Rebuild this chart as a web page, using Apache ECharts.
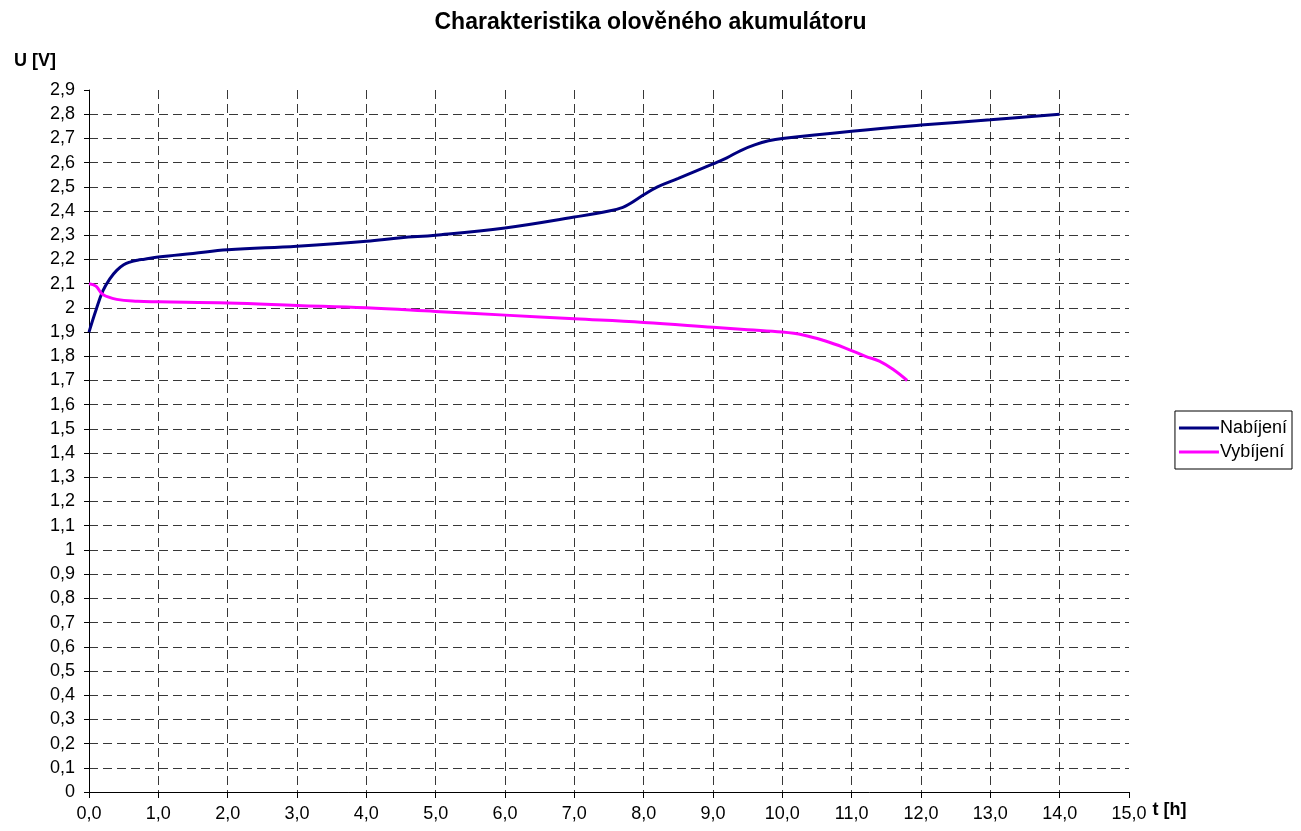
<!DOCTYPE html>
<html>
<head>
<meta charset="utf-8">
<script src="https://cdn.jsdelivr.net/npm/echarts@6/dist/echarts.min.js"></script>
<style>html,body{margin:0;padding:0;background:#fff}#c{width:1301px;height:831px}</style>
</head>
<body>
<div id="c"></div>
<script>
const chartTitle = 'Charakteristika olověného akumulátoru';
const xName = 't [h]';
const yName = 'U [V]';
const seriesNames = ['Nabíjení', 'Vybíjení'];
// charge curve: time [h], voltage [V]
const chargeT = [0, 0.1, 0.2, 0.3, 0.4, 0.5, 0.6, 0.7, 0.8, 1.0, 1.5, 2.0, 3.0, 4.0, 4.5, 5.0, 6.0, 7.0, 7.5, 7.7, 7.8, 8.0, 8.2, 8.5, 9.0, 9.2, 9.4, 9.6, 9.8, 10.0, 11.0, 12.0, 13.0, 14.0];
const chargeU = [1.90, 1.99, 2.07, 2.12, 2.155, 2.178, 2.19, 2.197, 2.201, 2.21, 2.225, 2.24, 2.255, 2.275, 2.29, 2.30, 2.33, 2.375, 2.40, 2.415, 2.43, 2.467, 2.50, 2.535, 2.595, 2.62, 2.65, 2.673, 2.69, 2.70, 2.73, 2.755, 2.777, 2.80];
// discharge curve
const dischT = [0, 0.1, 0.2, 0.4, 0.7, 1.0, 2.0, 3.0, 4.0, 5.0, 6.0, 7.0, 8.0, 9.0, 9.5, 10.0, 10.3, 10.6, 10.9, 11.2, 11.4, 11.6, 11.8];
const dischU = [2.10, 2.09, 2.055, 2.035, 2.027, 2.025, 2.02, 2.01, 2.0, 1.985, 1.97, 1.955, 1.94, 1.92, 1.91, 1.90, 1.888, 1.865, 1.835, 1.80, 1.78, 1.745, 1.70];

const pair = (a, b) => a.map((v, i) => [v, b[i]]);
const chart = echarts.init(document.getElementById('c'));
const font = 'Liberation Sans, Arial, sans-serif';
const gridLine = { show: true, showMaxLine: false, lineStyle: { color: '#000', type: [9, 5], width: 1, opacity: 0.78 } };
chart.setOption({
  animation: false,
  textStyle: { fontFamily: font },
  title: {
    text: chartTitle, left: 'center', top: 6,
    textStyle: { fontFamily: font, fontSize: 23, fontWeight: 'bold', color: '#000' }
  },
  legend: {
    orient: 'vertical', right: 9, top: 411,
    data: seriesNames,
    icon: 'rect', itemWidth: 40, itemHeight: 3, itemGap: 6,
    borderColor: '#000', borderWidth: 1, borderRadius: 0,
    padding: [8, 5, 8, 4],
    textStyle: { fontFamily: font, fontSize: 18, color: '#000', padding: [0, 0, 0, -4] }
  },
  grid: { left: 89, right: 172, top: 90, bottom: 39, containLabel: false },
  xAxis: {
    type: 'value', min: 0, max: 15, interval: 1,
    name: xName, nameLocation: 'end', nameGap: 21,
    nameTextStyle: { fontFamily: font, fontSize: 18, fontWeight: 'bold', color: '#000', align: 'left', verticalAlign: 'top', padding: [9, 0, 0, 0] },
    axisLine: { show: true, lineStyle: { color: '#000', width: 1 } },
    axisTick: { show: true, length: 6, inside: false, lineStyle: { color: '#000' } },
    axisLabel: { fontFamily: font, fontSize: 18, color: '#000', margin: 13, formatter: v => v.toFixed(1).replace('.', ',') },
    splitLine: gridLine
  },
  yAxis: {
    type: 'value', min: 0, max: 2.9, interval: 0.1,
    name: yName, nameLocation: 'end', nameGap: 20,
    nameTextStyle: { fontFamily: font, fontSize: 18, fontWeight: 'bold', color: '#000', align: 'right', padding: [0, 33, 0, 0] },
    axisLine: { show: true, lineStyle: { color: '#000', width: 1 } },
    axisTick: { show: true, length: 5, lineStyle: { color: '#000' } },
    axisLabel: { fontFamily: font, fontSize: 18, color: '#000', margin: 14, formatter: v => String(Math.round(v * 10) / 10).replace('.', ',') },
    splitLine: gridLine
  },
  series: [
    { name: seriesNames[0], type: 'line', data: pair(chargeT, chargeU), smooth: 0.4, showSymbol: false, lineStyle: { color: '#000080', width: 3 }, itemStyle: { color: '#000080' } },
    { name: seriesNames[1], type: 'line', data: pair(dischT, dischU), smooth: 0.4, showSymbol: false, lineStyle: { color: '#FF00FF', width: 3 }, itemStyle: { color: '#FF00FF' } }
  ]
});
</script>
</body>
</html>
